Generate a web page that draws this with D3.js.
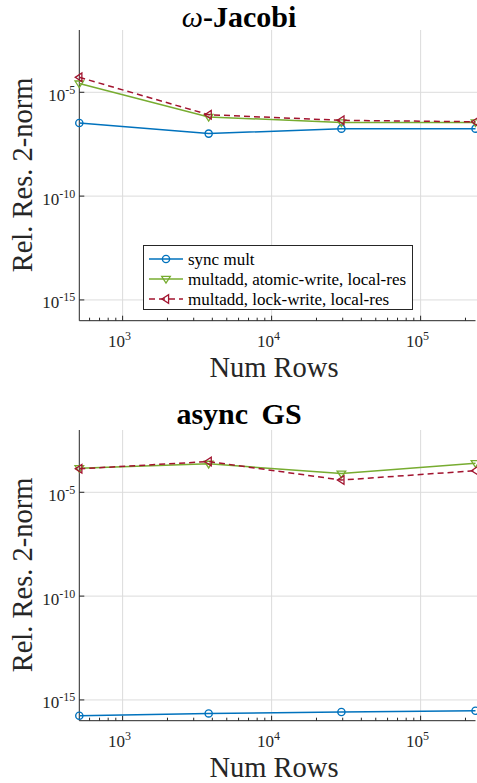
<!DOCTYPE html>
<html><head><meta charset="utf-8">
<script src="https://cdn.jsdelivr.net/npm/d3@7"></script>
<style>html,body{margin:0;padding:0;background:#fff;}svg{display:block;}</style>
</head><body>
<script>
const numRows = [512, 3780, 29400, 233500];
const seriesNames = ["sync mult", "multadd, atomic-write, local-res", "multadd, lock-write, local-res"];
// exponents (log10 of relative residual)
const jacobiSync   = [-6.48, -6.99, -6.75, -6.75];
const jacobiAtomic = [-4.58, -6.19, -6.45, -6.45];
const jacobiLock   = [-4.28, -6.08, -6.35, -6.42];
const gsSync   = [-15.76, -15.65, -15.58, -15.52];
const gsAtomic = [-3.84, -3.63, -4.10, -3.60];
const gsLock   = [-3.87, -3.52, -4.41, -3.96];
const xTickExps = [3, 4, 5];
const yTickExps = [-15, -10, -5];

const W = 477, H = 783;
const svg = d3.select("body").append("svg").attr("width", W).attr("height", H);
const FONT = "'Liberation Serif','Times New Roman',serif";
const colors = ["#0072BD", "#77AC30", "#A2142F"];
const axisColor = "#262626";

function marker(g, type, x, y, color) {
  if (type === 0) {
    g.append("circle").attr("cx", x).attr("cy", y).attr("r", 3.6)
      .attr("fill", "none").attr("stroke", color).attr("stroke-width", 1.4);
  } else if (type === 1) {
    const s = 4.3;
    g.append("path").attr("d", `M${x - s},${y - s * 0.6}L${x + s},${y - s * 0.6}L${x},${y + s * 0.95}Z`)
      .attr("fill", "none").attr("stroke", color).attr("stroke-width", 1.3);
  } else {
    const s = 4.3;
    g.append("path").attr("d", `M${x - s * 0.95},${y}L${x + s * 0.6},${y - s}L${x + s * 0.6},${y + s}Z`)
      .attr("fill", "none").attr("stroke", color).attr("stroke-width", 1.3);
  }
}

function powLabel(g, x, y, exp, anchor) {
  const t = g.append("text").attr("x", x).attr("y", y).attr("text-anchor", anchor)
    .attr("font-family", FONT).attr("font-size", 17).attr("fill", axisColor);
  t.append("tspan").text("10");
  t.append("tspan").attr("font-size", 12).attr("dy", -7).text(String(exp));
}

function panel(offY, makeTitle, data, showLegend) {
  const g = svg.append("g").attr("transform", `translate(0,${offY})`);
  const x = d3.scaleLog().domain([numRows[0], numRows[3]]).range([79.3, 475.5]);
  const y = d3.scaleLog().domain([1e-16, 1e-2]).range([320.7, 30]);
  const top = 30, bot = 320.7, left = 79.3, right = 475.5;

  // grid
  xTickExps.forEach(e => {
    g.append("line").attr("x1", x(10 ** e)).attr("x2", x(10 ** e)).attr("y1", top).attr("y2", bot)
      .attr("stroke", "#dcdcdc").attr("stroke-width", 1);
  });
  yTickExps.forEach(e => {
    g.append("line").attr("x1", left).attr("x2", right + 2).attr("y1", y(10 ** e)).attr("y2", y(10 ** e))
      .attr("stroke", "#dcdcdc").attr("stroke-width", 1);
  });

  // axes lines
  g.append("line").attr("x1", left).attr("x2", left).attr("y1", top).attr("y2", bot)
    .attr("stroke", axisColor).attr("stroke-width", 1);
  g.append("line").attr("x1", left).attr("x2", right).attr("y1", bot).attr("y2", bot)
    .attr("stroke", axisColor).attr("stroke-width", 1);

  // x ticks (major + minor)
  const minor = x.ticks(30).filter(v => v >= numRows[0] && v <= numRows[3]);
  minor.forEach(v => {
    const isMajor = Math.abs(Math.log10(v) - Math.round(Math.log10(v))) < 1e-9;
    g.append("line").attr("x1", x(v)).attr("x2", x(v)).attr("y1", bot).attr("y2", bot - (isMajor ? 5 : 3))
      .attr("stroke", axisColor).attr("stroke-width", 1);
  });
  xTickExps.forEach(e => powLabel(g, x(10 ** e) - 3, bot + 26, e, "middle"));
  yTickExps.forEach(e => {
    g.append("line").attr("x1", left).attr("x2", left + 5).attr("y1", y(10 ** e)).attr("y2", y(10 ** e))
      .attr("stroke", axisColor).attr("stroke-width", 1);
    powLabel(g, left - 4, y(10 ** e) + 8.5, e, "end");
  });

  // labels
  g.append("text").attr("x", 274).attr("y", 377).attr("text-anchor", "middle")
    .attr("font-family", FONT).attr("font-size", 28.5).attr("fill", axisColor).text("Num Rows");
  g.append("text").attr("transform", `translate(32,175) rotate(-90)`).attr("text-anchor", "middle")
    .attr("font-family", FONT).attr("font-size", 28.5).attr("fill", axisColor).text("Rel. Res. 2-norm");
  const tt = g.append("text").attr("x", 239).attr("y", offY ? 24 : 27).attr("text-anchor", "middle")
    .attr("font-family", FONT).attr("font-size", 30).attr("fill", "#000");
  makeTitle(tt);

  // series
  const line = d3.line().x((d, i) => x(numRows[i])).y(d => y(10 ** d));
  data.forEach((s, k) => {
    g.append("path").datum(s).attr("d", line).attr("fill", "none").attr("stroke", colors[k])
      .attr("stroke-width", 1.5).attr("stroke-dasharray", k === 2 ? "6,4" : null);
    s.forEach((d, i) => marker(g, k, x(numRows[i]), y(10 ** d), colors[k]));
  });

  if (showLegend) {
    const lg = g.append("g");
    lg.append("rect").attr("x", 143.5).attr("y", 245.5).attr("width", 269).attr("height", 64)
      .attr("fill", "#fff").attr("stroke", axisColor).attr("stroke-width", 1);
    seriesNames.forEach((n, k) => {
      const yy = 259 + k * 20;
      lg.append("line").attr("x1", 149).attr("x2", 183).attr("y1", yy).attr("y2", yy)
        .attr("stroke", colors[k]).attr("stroke-width", 1.5).attr("stroke-dasharray", k === 2 ? "6,4" : null);
      marker(lg, k, 166, yy, colors[k]);
      lg.append("text").attr("x", 188).attr("y", yy + 5.5).attr("font-family", FONT)
        .attr("font-size", 17).attr("fill", "#000").text(n);
    });
  }
}

panel(0, t => {
  t.append("tspan").attr("font-style", "italic").text("ω");
  t.append("tspan").attr("font-weight", "bold").text("-Jacobi");
}, [jacobiSync, jacobiAtomic, jacobiLock], true);

panel(400, t => {
  t.append("tspan").attr("font-weight", "bold").attr("word-spacing", "6").text("async GS");
}, [gsSync, gsAtomic, gsLock], false);
</script>
</body></html>
